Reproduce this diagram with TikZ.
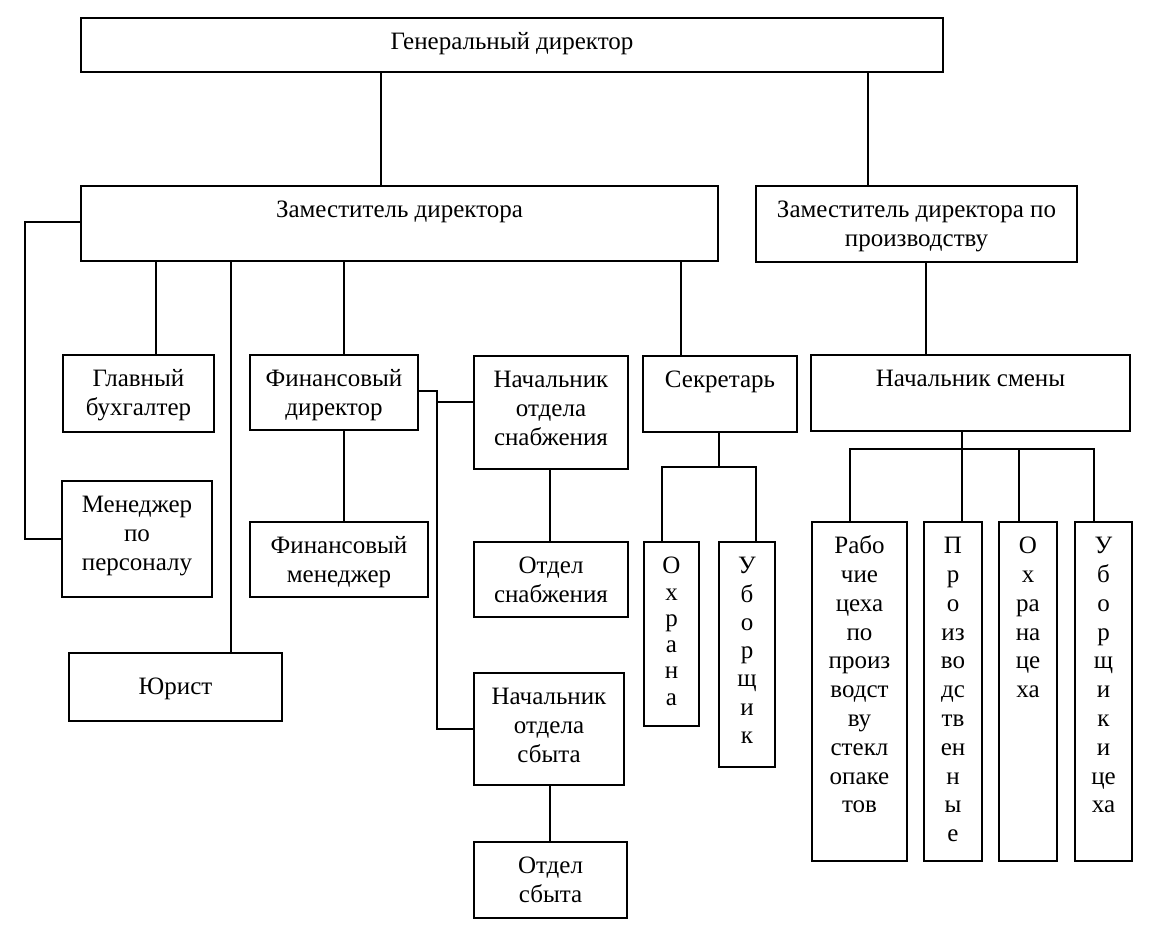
\documentclass[tikz,border=0pt]{standalone}
\usepackage{fontspec}
\setmainfont{Liberation Serif}
\tikzset{
  boxst/.style={draw, line width=1.5pt, rectangle, inner sep=0pt},
  txt/.style={inner sep=0pt, font=\fontsize{25}{28.8}\selectfont},
  conn/.style={line width=2pt},
}
\newcommand\orgbox[8]{%
  \node[boxst,#6, minimum width={(#4-#2)*1pt}, minimum height={(#5-#3)*1pt}] (#1) at ({(#2+#4)/2},{(#3+#5)/2}) {};
  \node[txt, anchor=base, #7] at ([yshift=-32.5pt]#1.north) {\begin{tabular}[t]{@{}c@{}}#8\end{tabular}};}
\begin{document}
\begin{tikzpicture}[x=1pt,y=-1pt]
\fill[white] (0,0) rectangle (1170,937);
\useasboundingbox (0,0) rectangle (1170,937);
\orgbox{gen}{81}{18}{943}{72}{}{}{Генеральный директор}
\orgbox{zam}{81}{186}{718}{261}{}{}{Заместитель директора}
\orgbox{zamp}{756}{186}{1077}{262}{}{}{Заместитель директора по\\производству}
\orgbox{glav}{63}{355}{214}{432}{}{}{Главный\\бухгалтер}
\orgbox{findir}{250}{355}{418}{430}{}{}{Финансовый\\директор}
\orgbox{snab}{474}{356}{628}{469}{}{}{Начальник\\отдела\\снабжения}
\orgbox{sekr}{643}{356}{797}{432}{}{}{Секретарь}
\orgbox{nsm}{811}{355}{1130}{431}{}{}{Начальник смены}
\orgbox{men}{62}{481}{212}{597}{}{}{Менеджер\\по\\персоналу}
\orgbox{finmen}{250}{522}{428}{597}{}{}{Финансовый\\менеджер}
\orgbox{otdsnab}{474}{542}{628}{617}{}{}{Отдел\\снабжения}
\orgbox{okh}{644}{542}{699}{726}{}{font=\fontsize{25}{26.3}\selectfont}{О\\х\\р\\а\\н\\а}
\orgbox{ubo}{719}{542}{775}{767}{}{font=\fontsize{25}{28.3}\selectfont}{У\\б\\о\\р\\щ\\и\\к}
\orgbox{yur}{69}{653}{282}{721}{line width=2.5pt}{yshift=-10pt}{Юрист}
\orgbox{ns}{474}{673}{624}{785}{}{}{Начальник\\отдела\\сбыта}
\orgbox{otdsbyt}{474}{842}{627}{918}{}{}{Отдел\\сбыта}
\orgbox{rab}{812}{522}{907}{861}{}{}{Рабо\\чие\\цеха\\по\\произ\\водст\\ву\\стекл\\опаке\\тов}
\orgbox{proizv}{924}{522}{982}{861}{}{}{П\\р\\о\\из\\во\\дс\\тв\\ен\\н\\ы\\е}
\orgbox{okhc}{999}{522}{1057}{861}{}{}{О\\х\\ра\\на\\це\\ха}
\orgbox{uboc}{1075}{522}{1132}{861}{}{}{У\\б\\о\\р\\щ\\и\\к\\и\\це\\ха}
% connectors
\draw[conn] (381,0 |- gen.south) -- (381,0 |- zam.north);
\draw[conn] (868,0 |- gen.south) -- (868,0 |- zamp.north);
\draw[conn] (156,0 |- zam.south) -- (156,0 |- glav.north);
\draw[conn] (231,0 |- zam.south) -- (231,0 |- yur.north);
\draw[conn] (344,0 |- zam.south) -- (344,0 |- findir.north);
\draw[conn] (681,0 |- zam.south) -- (681,0 |- sekr.north);
\draw[conn] (zam.west |- 0,222) -- (25,222) -- (25,0 |- men.west) -- (men.west);
\draw[conn] (344,0 |- findir.south) -- (344,0 |- finmen.north);
\draw[conn,line width=1.5pt] (findir.east |- 0,391) -- (437,391) -- (437,0 |- ns.west) -- (ns.west);
\draw[conn,line width=2.5pt] (437,402) -- (snab.west |- 0,402);
\draw[conn] (550,0 |- snab.south) -- (550,0 |- otdsnab.north);
\draw[conn] (550,0 |- ns.south) -- (550,0 |- otdsbyt.north);
\draw[conn] (719,0 |- sekr.south) -- (719,467);
\draw[conn] (662,0 |- okh.north) -- (662,467) -- (756,467) -- (756,0 |- ubo.north);
\draw[conn] (926,0 |- zamp.south) -- (926,0 |- nsm.north);
\draw[conn] (962,0 |- nsm.south) -- (962,0 |- proizv.north);
\draw[conn] (850,0 |- rab.north) -- (850,449) -- (1094,449) -- (1094,0 |- uboc.north);
\draw[conn] (1019,449) -- (1019,0 |- okhc.north);
\end{tikzpicture}
\end{document}
